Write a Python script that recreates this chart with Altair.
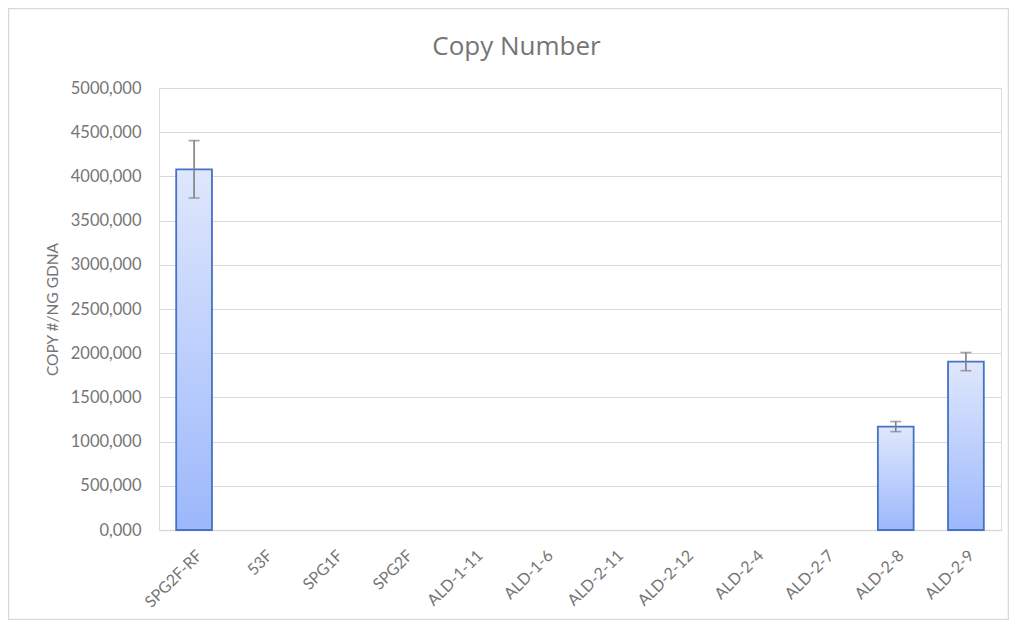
import altair as alt
import pandas as pd

categories = ["SPG2F-RF", "53F", "SPG1F", "SPG2F", "ALD-1-11", "ALD-1-6",
              "ALD-2-11", "ALD-2-12", "ALD-2-4", "ALD-2-7", "ALD-2-8", "ALD-2-9"]
values = [4080, 0, 0, 0, 0, 0, 0, 0, 0, 0, 1170, 1905]
errors = [325, 0, 0, 0, 0, 0, 0, 0, 0, 0, 57, 103]
y_ticks = [0, 500, 1000, 1500, 2000, 2500, 3000, 3500, 4000, 4500, 5000]

df = pd.DataFrame({"sample": categories, "value": values, "err": errors})
df["lo"] = df["value"] - df["err"]
df["hi"] = df["value"] + df["err"]

FONT = "Lato"
GRAY = "#757575"

x = alt.X("sample:N", sort=categories,
          scale=alt.Scale(domain=categories, paddingInner=0.49, paddingOuter=0.245),
          axis=alt.Axis(title=None, labelAngle=-45, labelFontSize=16, labelColor=GRAY,
                        labelFont=FONT, ticks=False, domainColor="#d9d9d9",
                        labelPadding=17, domainWidth=1.5))

y_axis = alt.Axis(title="COPY #/NG GDNA", values=y_ticks,
                  labelExpr="replace(format(datum.value, '.3f'), '.', ',')",
                  labelFontSize=16.5, labelColor=GRAY, labelFont=FONT,
                  titleFont=FONT, titleFontSize=15.5, titleColor=GRAY,
                  titleFontWeight="normal", titlePadding=10,
                  ticks=False, domain=False, labelPadding=18,
                  gridColor="#d9d9d9", gridWidth=1.2)

base = alt.Chart(df).transform_filter("datum.value > 0")

bars = base.mark_bar(
    color=alt.Gradient(gradient="linear",
                       stops=[alt.GradientStop(color="#dfe7fd", offset=0),
                              alt.GradientStop(color="#9cb8fb", offset=1)],
                       x1=1, x2=1, y1=0, y2=1),
    stroke="#4472c4", strokeWidth=1.8
).encode(x=x, y=alt.Y("value:Q", scale=alt.Scale(domain=[0, 5000]), axis=y_axis))

err_rule = base.mark_rule(color="#7f7f7f", strokeWidth=1.6).encode(
    x=alt.X("sample:N", sort=categories), y="lo:Q", y2="hi:Q")
cap_lo = base.mark_tick(color="#7f7f7f", size=11, thickness=1.6, orient="horizontal").encode(
    x=alt.X("sample:N", sort=categories), y="lo:Q")
cap_hi = base.mark_tick(color="#7f7f7f", size=11, thickness=1.6, orient="horizontal").encode(
    x=alt.X("sample:N", sort=categories), y="hi:Q")

frame = alt.Chart(pd.DataFrame({"a": [0]})).mark_rect(
    fill=None, stroke="#d9d9d9", strokeWidth=1.5
).encode(x=alt.value(-150.5), x2=alt.value(849.5), y=alt.value(-79.5), y2=alt.value(531.5))

chart = alt.layer(frame, bars, err_rule, cap_lo, cap_hi).properties(
    width=842, height=442,
    title=alt.TitleParams("Copy Number", fontSize=26, font="Open Sans", color=GRAY,
                          fontWeight="normal", anchor="middle", frame="bounds",
                          offset=0, dy=52, dx=8),
    autosize=alt.AutoSizeParams(type="none"),
    padding={"left": 151, "top": 80, "right": 8, "bottom": 90}
).configure_view(stroke=None).configure(background="white")

chart.save("out.html", embed_options={"renderer": "svg", "actions": False})
